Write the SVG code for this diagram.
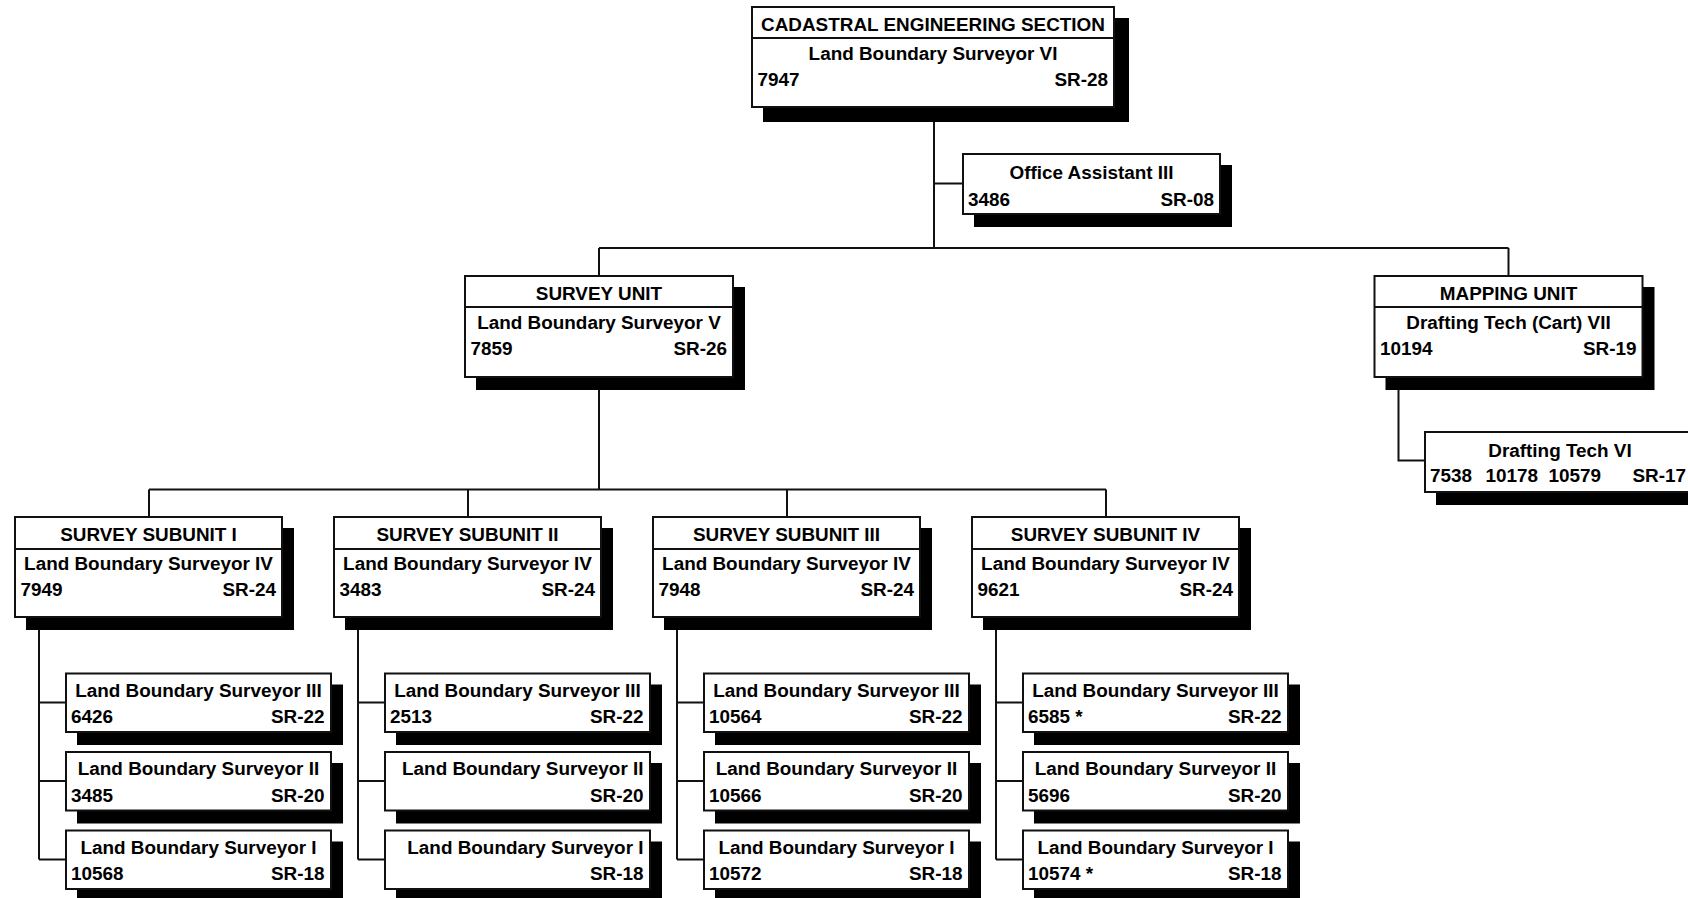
<svg xmlns="http://www.w3.org/2000/svg" width="1688" height="898" viewBox="0 0 1688 898">
<style>
text{font-family:"Liberation Sans",Arial,sans-serif;font-weight:bold;font-size:18.9px;fill:#000}
.c{text-anchor:middle}
.e{text-anchor:end}
.box{fill:#fff;stroke:#111;stroke-width:2}
.sh{fill:#000}
.ln{fill:none;stroke:#111;stroke-width:2}
</style>
<rect width="1688" height="898" fill="#fff"/>
<g id="connectors">
<path class="ln" d="M934,107V248M934,183.5H963M599,248H1508.5M599,248V276M1508.5,248V276M599,377V489.5M1398.5,377V460.5H1425M149,489.5H1106M149,489.5V517M468,489.5V517M787,489.5V517M1106,489.5V517"/>
<path class="ln" d="M39,617V859.5M39,702.5H66M39,781H66M39,859.5H66"/>
<path class="ln" d="M358,617V859.5M358,702.5H385M358,781H385M358,859.5H385"/>
<path class="ln" d="M677,617V859.5M677,702.5H704M677,781H704M677,859.5H704"/>
<path class="ln" d="M996,617V859.5M996,702.5H1023M996,781H1023M996,859.5H1023"/>
</g>
<g id="n-cadastral">
<rect class="sh" x="763" y="18" width="366" height="104"/>
<rect class="box" x="752" y="7" width="362" height="100"/>
<path class="ln" d="M752,38H1114"/>
<text class="c" x="933" y="31">CADASTRAL ENGINEERING SECTION</text>
<text class="c" x="933" y="60">Land Boundary Surveyor VI</text>
<text x="757.5" y="86">7947</text>
<text class="e" x="1108" y="86">SR-28</text>
</g>
<g id="n-office">
<rect class="sh" x="974" y="165" width="258" height="62"/>
<rect class="box" x="963" y="154" width="257" height="60"/>
<text class="c" x="1091.5" y="178.5">Office Assistant III</text>
<text x="968" y="205.5">3486</text>
<text class="e" x="1214" y="205.5">SR-08</text>
</g>
<g id="n-survey">
<rect class="sh" x="476" y="287" width="269" height="103"/>
<rect class="box" x="465" y="276" width="268" height="101"/>
<path class="ln" d="M465,307H733"/>
<text class="c" x="599" y="299.5">SURVEY UNIT</text>
<text class="c" x="599" y="329">Land Boundary Surveyor V</text>
<text x="470.5" y="355">7859</text>
<text class="e" x="727" y="355">SR-26</text>
</g>
<g id="n-mapping">
<rect class="sh" x="1385.5" y="287" width="269" height="103"/>
<rect class="box" x="1374.5" y="276" width="268" height="101"/>
<path class="ln" d="M1374.5,307H1642.5"/>
<text class="c" x="1508.5" y="299.5">MAPPING UNIT</text>
<text class="c" x="1508.5" y="329">Drafting Tech (Cart) VII</text>
<text x="1380" y="355">10194</text>
<text class="e" x="1636.5" y="355">SR-19</text>
</g>
<g id="n-drafting6">
<rect class="sh" x="1436" y="443" width="271" height="62"/>
<rect class="box" x="1425" y="432" width="270" height="60"/>
<text class="c" x="1560" y="457">Drafting Tech VI</text>
<text y="481.5"><tspan x="1430">7538</tspan><tspan x="1485.5">10178</tspan><tspan x="1548.5">10579</tspan><tspan x="1632.5">SR-17</tspan></text>
</g>
<g id="n-sub1">
<rect class="sh" x="26" y="528" width="268" height="102"/>
<rect class="box" x="15" y="517" width="267" height="100"/>
<path class="ln" d="M15,549H282"/>
<text class="c" x="148.5" y="541">SURVEY SUBUNIT I</text>
<text class="c" x="148.5" y="569.5">Land Boundary Surveyor IV</text>
<text x="20.5" y="595.5">7949</text>
<text class="e" x="276" y="595.5">SR-24</text>
</g>
<g id="n-sub2">
<rect class="sh" x="345" y="528" width="268" height="102"/>
<rect class="box" x="334" y="517" width="267" height="100"/>
<path class="ln" d="M334,549H601"/>
<text class="c" x="467.5" y="541">SURVEY SUBUNIT II</text>
<text class="c" x="467.5" y="569.5">Land Boundary Surveyor IV</text>
<text x="339.5" y="595.5">3483</text>
<text class="e" x="595" y="595.5">SR-24</text>
</g>
<g id="n-sub3">
<rect class="sh" x="664" y="528" width="268" height="102"/>
<rect class="box" x="653" y="517" width="267" height="100"/>
<path class="ln" d="M653,549H920"/>
<text class="c" x="786.5" y="541">SURVEY SUBUNIT III</text>
<text class="c" x="786.5" y="569.5">Land Boundary Surveyor IV</text>
<text x="658.5" y="595.5">7948</text>
<text class="e" x="914" y="595.5">SR-24</text>
</g>
<g id="n-sub4">
<rect class="sh" x="983" y="528" width="268" height="102"/>
<rect class="box" x="972" y="517" width="267" height="100"/>
<path class="ln" d="M972,549H1239"/>
<text class="c" x="1105.5" y="541">SURVEY SUBUNIT IV</text>
<text class="c" x="1105.5" y="569.5">Land Boundary Surveyor IV</text>
<text x="977.5" y="595.5">9621</text>
<text class="e" x="1233" y="595.5">SR-24</text>
</g>
<g id="n-c1-3">
<rect class="sh" x="77" y="684.5" width="266" height="60.5"/>
<rect class="box" x="66" y="673.5" width="265" height="58.5"/>
<text class="c" x="198.5" y="696.5">Land Boundary Surveyor III</text>
<text x="71" y="723">6426</text>
<text class="e" x="324.5" y="723">SR-22</text>
</g>
<g id="n-c1-2">
<rect class="sh" x="77" y="763" width="266" height="60.5"/>
<rect class="box" x="66" y="752" width="265" height="58.5"/>
<text class="c" x="198.5" y="775">Land Boundary Surveyor II</text>
<text x="71" y="801.5">3485</text>
<text class="e" x="324.5" y="801.5">SR-20</text>
</g>
<g id="n-c1-1">
<rect class="sh" x="77" y="841.5" width="266" height="60.5"/>
<rect class="box" x="66" y="830.5" width="265" height="58.5"/>
<text class="c" x="198.5" y="853.5">Land Boundary Surveyor I</text>
<text x="71" y="880">10568</text>
<text class="e" x="324.5" y="880">SR-18</text>
</g>
<g id="n-c2-3">
<rect class="sh" x="396" y="684.5" width="266" height="60.5"/>
<rect class="box" x="385" y="673.5" width="265" height="58.5"/>
<text class="c" x="517.5" y="696.5">Land Boundary Surveyor III</text>
<text x="390" y="723">2513</text>
<text class="e" x="643.5" y="723">SR-22</text>
</g>
<g id="n-c2-2">
<rect class="sh" x="396" y="763" width="266" height="60.5"/>
<rect class="box" x="385" y="752" width="265" height="58.5"/>
<text class="e" x="643.5" y="775">Land Boundary Surveyor II</text>
<text class="e" x="643.5" y="801.5">SR-20</text>
</g>
<g id="n-c2-1">
<rect class="sh" x="396" y="841.5" width="266" height="60.5"/>
<rect class="box" x="385" y="830.5" width="265" height="58.5"/>
<text class="e" x="643.5" y="853.5">Land Boundary Surveyor I</text>
<text class="e" x="643.5" y="880">SR-18</text>
</g>
<g id="n-c3-3">
<rect class="sh" x="715" y="684.5" width="266" height="60.5"/>
<rect class="box" x="704" y="673.5" width="265" height="58.5"/>
<text class="c" x="836.5" y="696.5">Land Boundary Surveyor III</text>
<text x="709" y="723">10564</text>
<text class="e" x="962.5" y="723">SR-22</text>
</g>
<g id="n-c3-2">
<rect class="sh" x="715" y="763" width="266" height="60.5"/>
<rect class="box" x="704" y="752" width="265" height="58.5"/>
<text class="c" x="836.5" y="775">Land Boundary Surveyor II</text>
<text x="709" y="801.5">10566</text>
<text class="e" x="962.5" y="801.5">SR-20</text>
</g>
<g id="n-c3-1">
<rect class="sh" x="715" y="841.5" width="266" height="60.5"/>
<rect class="box" x="704" y="830.5" width="265" height="58.5"/>
<text class="c" x="836.5" y="853.5">Land Boundary Surveyor I</text>
<text x="709" y="880">10572</text>
<text class="e" x="962.5" y="880">SR-18</text>
</g>
<g id="n-c4-3">
<rect class="sh" x="1034" y="684.5" width="266" height="60.5"/>
<rect class="box" x="1023" y="673.5" width="265" height="58.5"/>
<text class="c" x="1155.5" y="696.5">Land Boundary Surveyor III</text>
<text x="1028" y="723">6585 *</text>
<text class="e" x="1281.5" y="723">SR-22</text>
</g>
<g id="n-c4-2">
<rect class="sh" x="1034" y="763" width="266" height="60.5"/>
<rect class="box" x="1023" y="752" width="265" height="58.5"/>
<text class="c" x="1155.5" y="775">Land Boundary Surveyor II</text>
<text x="1028" y="801.5">5696</text>
<text class="e" x="1281.5" y="801.5">SR-20</text>
</g>
<g id="n-c4-1">
<rect class="sh" x="1034" y="841.5" width="266" height="60.5"/>
<rect class="box" x="1023" y="830.5" width="265" height="58.5"/>
<text class="c" x="1155.5" y="853.5">Land Boundary Surveyor I</text>
<text x="1028" y="880">10574 *</text>
<text class="e" x="1281.5" y="880">SR-18</text>
</g>
</svg>
